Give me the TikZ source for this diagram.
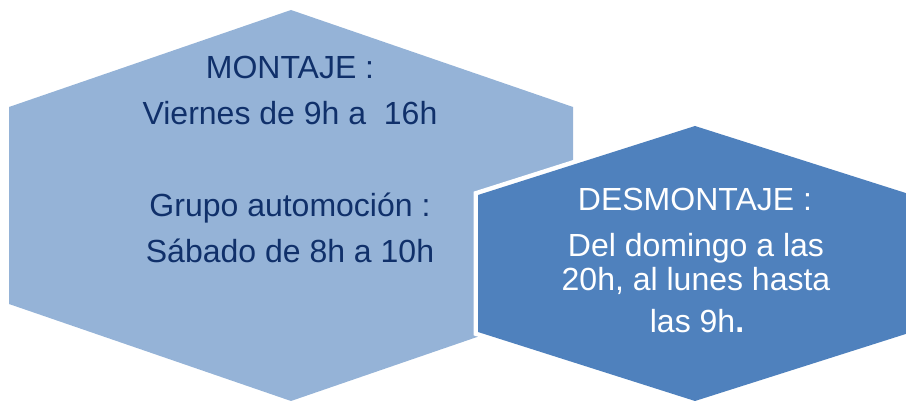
\documentclass[tikz,border=0pt]{standalone}
\usepackage{fontspec}
\setmainfont{Liberation Sans}
\definecolor{lightblue}{HTML}{95B3D7}
\definecolor{midblue}{HTML}{4F81BD}
\definecolor{navy}{HTML}{10306A}
\begin{document}
\begin{tikzpicture}[x=1pt,y=-1pt,
  txt/.style={font=\fontsize{32}{38}\selectfont, anchor=base, inner sep=0pt}]
\useasboundingbox (0,0) rectangle (906,403);
\clip (0,0) rectangle (906,403);
% left hexagon
\fill[lightblue] (291,10) -- (573,107) -- (573,304) -- (291,401) -- (9,304) -- (9,107) -- cycle;
% right hexagon with white outline
\draw[white, line width=9pt, line join=miter] (695,126) -- (912,195) -- (912,332) -- (695,401) -- (478,332) -- (478,195) -- cycle;
\fill[midblue] (695,126) -- (912,195) -- (912,332) -- (695,401) -- (478,332) -- (478,195) -- cycle;
% texts
\node[txt, text=navy] (m1) at (290,79) {MONTAJE :};
\node[txt, text=navy] (m2) at (290,125) {Viernes de 9h a \ 16h};
\node[txt, text=navy] (m3) at (290,217) {Grupo automoción :};
\node[txt, text=navy] (m4) at (290,263) {Sábado de 8h a 10h};
\node[txt, text=white] (d1) at (695,211) {DESMONTAJE :};
\node[txt, text=white] (d2) at (696,257) {Del domingo a las};
\node[txt, text=white] (d3) at (696,291) {20h, al lunes hasta};
\node[txt, text=white] (d4) at (697,333) {las 9h\textbf{.}};
\end{tikzpicture}
\end{document}
